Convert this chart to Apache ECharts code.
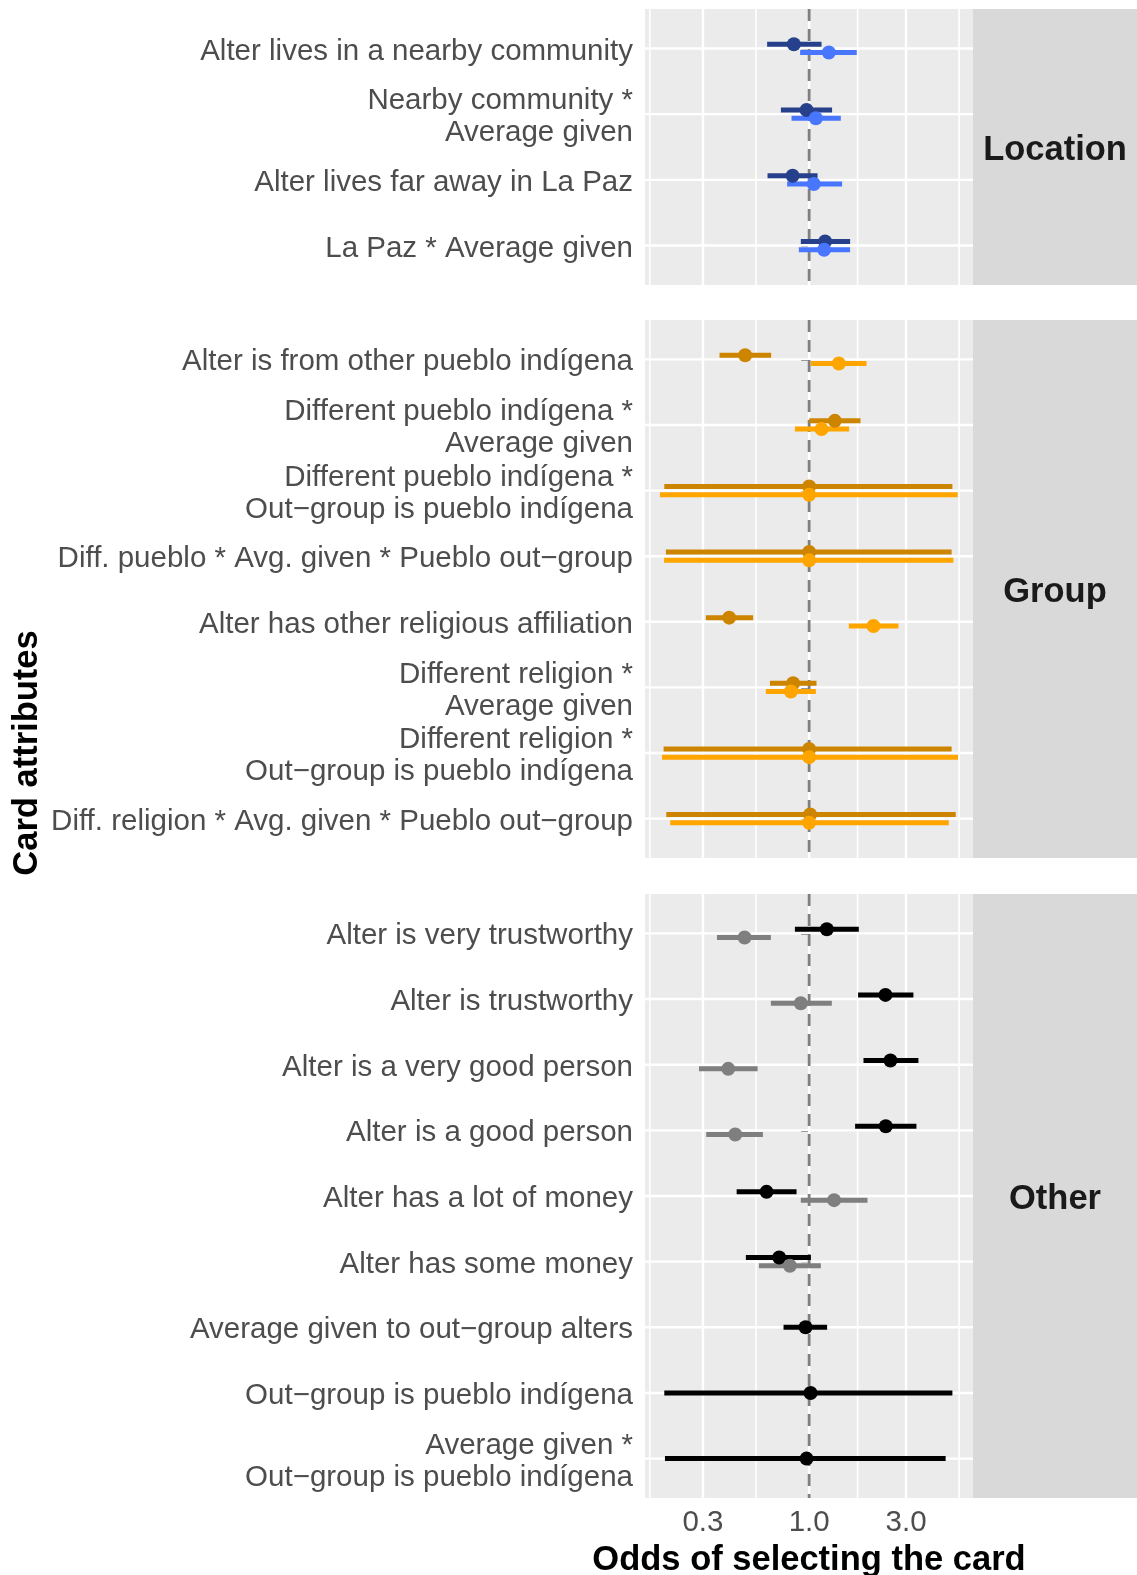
<!DOCTYPE html>
<html><head><meta charset="utf-8">
<script src="https://cdn.jsdelivr.net/npm/echarts@6/dist/echarts.min.js"></script>
<style>html,body{margin:0;padding:0;background:#fff}#c{width:1137px;height:1575px}</style>
</head><body><div id="c"></div>
<script>
const FONT = '"Liberation Sans", Arial, Helvetica, sans-serif';

// ---------- data ----------
const panelNames = ['Location', 'Group', 'Other'];

const locationLabels = ['Alter lives in a nearby community', 'Nearby community *\nAverage given', 'Alter lives far away in La Paz', 'La Paz * Average given'];
const locationDarkEst = [0.841, 0.971, 0.829, 1.198];
const locationDarkLo  = [0.621, 0.726, 0.624, 0.910];
const locationDarkHi  = [1.151, 1.297, 1.100, 1.591];
const locationLightEst = [1.250, 1.079, 1.054, 1.185];
const locationLightLo  = [0.903, 0.819, 0.779, 0.890];
const locationLightHi  = [1.716, 1.432, 1.453, 1.591];

const groupLabels = ['Alter is from other pueblo indígena', 'Different pueblo indígena *\nAverage given', 'Different pueblo indígena *\nOut\u2212group is pueblo indígena', 'Diff. pueblo * Avg. given * Pueblo out\u2212group', 'Alter has other religious affiliation', 'Different religion *\nAverage given', 'Different religion *\nOut\u2212group is pueblo indígena', 'Diff. religion * Avg. given * Pueblo out\u2212group'];
const groupDarkEst = [0.484, 1.338, 1.0, 1.0, 0.404, 0.834, 1.0, 1.011];
const groupDarkLo  = [0.362, 1.0, 0.1935, 0.197, 0.310, 0.641, 0.192, 0.198];
const groupDarkHi  = [0.650, 1.790, 5.075, 5.03, 0.530, 1.087, 5.03, 5.27];
const groupLightEst = [1.400, 1.151, 1.0, 1.0, 2.074, 0.813, 1.0, 1.0];
const groupLightLo  = [1.02, 0.851, 0.1843, 0.193, 1.568, 0.612, 0.1886, 0.207];
const groupLightHi  = [1.916, 1.573, 5.387, 5.13, 2.753, 1.079, 5.41, 4.87];

const otherLabels = ['Alter is very trustworthy', 'Alter is trustworthy', 'Alter is a very good person', 'Alter is a good person', 'Alter has a lot of money', 'Alter has some money', 'Average given to out\u2212group alters', 'Out\u2212group is pueblo indígena', 'Average given *\nOut\u2212group is pueblo indígena'];
const otherDarkEst = [1.222, 2.376, 2.514, 2.384, 0.617, 0.712, 0.960, 1.016, 0.971];
const otherDarkLo  = [0.851, 1.742, 1.852, 1.684, 0.4395, 0.488, 0.748, 0.1935, 0.195];
const otherDarkHi  = [1.756, 3.262, 3.452, 3.375, 0.867, 1.02, 1.226, 5.075, 4.70];
const otherLightEst = [0.481, 0.910, 0.3996, 0.4325, 1.327, 0.804, null, null, null];
const otherLightLo  = [0.3516, 0.648, 0.2868, 0.3113, 0.910, 0.566, null, null, null];
const otherLightHi  = [0.648, 1.293, 0.5575, 0.592, 1.938, 1.142, null, null, null];

const xTickValues = [0.3, 1.0, 3.0];
const xMinorValues = [0.1643, 0.5477, 1.732, 5.477];
const xRange = [0.1555, 6.41];
const refValue = 1.0;

// ---------- styling / layout ----------
const panels = [
  {labels: locationLabels, dark: [locationDarkEst, locationDarkLo, locationDarkHi], light: [locationLightEst, locationLightLo, locationLightHi], cDark: '#27408B', cLight: '#4876FF', top: 9, height: 276},
  {labels: groupLabels, dark: [groupDarkEst, groupDarkLo, groupDarkHi], light: [groupLightEst, groupLightLo, groupLightHi], cDark: '#CD8500', cLight: '#FFA500', top: 320, height: 538},
  {labels: otherLabels, dark: [otherDarkEst, otherDarkLo, otherDarkHi], light: [otherLightEst, otherLightLo, otherLightHi], cDark: '#000000', cLight: '#7F7F7F', top: 894, height: 604}
];
const GL = 645, GR = 1137 - 973;
const DODGE = 0.063;
const LABEL_NUDGE = 0.045;
const L = Math.log10;

const grids = [], xAxes = [], yAxes = [], series = [], graphics = [];

panels.forEach((p, i) => {
  const n = p.labels.length;
  grids.push({left: GL, right: GR, top: p.top, height: p.height, show: true, backgroundColor: '#EBEBEB', borderWidth: 0, containLabel: false});
  const isLast = i === panels.length - 1;
  xAxes.push({
    type: 'value', gridIndex: i, min: L(xRange[0]), max: L(xRange[1]),
    axisLine: {show: false}, splitLine: {show: false},
    axisTick: {show: isLast, customValues: xTickValues.map(L), length: 8, lineStyle: {color: '#333333', width: 2}},
    axisLabel: {show: isLast, customValues: xTickValues.map(L), margin: 10, color: '#4D4D4D', fontSize: 29.5, fontFamily: FONT,
      formatter: v => Math.pow(10, v).toFixed(1)}
  });
  const idx = [...Array(n).keys()];
  yAxes.push({
    type: 'value', gridIndex: i, inverse: true, min: -0.6, max: n - 0.4,
    axisLine: {show: false}, splitLine: {show: false},
    axisTick: {show: true, customValues: idx, length: 8, lineStyle: {color: '#333333', width: 2}},
    axisLabel: {show: true, customValues: idx.map(k => k + LABEL_NUDGE), margin: 12, color: '#4D4D4D', fontSize: 29.5, lineHeight: 32, fontFamily: FONT, align: 'right',
      formatter: v => p.labels[Math.round(v)] || ''}
  });

  // grid lines (vertical)
  const vData = xMinorValues.map(v => [L(v), 0, 1]).concat(xTickValues.map(v => [L(v), 0, 2]));
  series.push({
    type: 'custom', xAxisIndex: i, yAxisIndex: i, z: 1, silent: true, clip: false,
    data: vData, encode: {x: 0, y: 1},
    renderItem: (params, api) => {
      const cs = params.coordSys;
      const x = api.coord([api.value(0), 0])[0];
      const w = api.value(2) === 2 ? 2.4 : 1.6;
      return {type: 'line', shape: {x1: x, y1: cs.y, x2: x, y2: cs.y + cs.height}, style: {stroke: '#FFFFFF', lineWidth: w}};
    }
  });
  // grid lines (horizontal)
  series.push({
    type: 'custom', xAxisIndex: i, yAxisIndex: i, z: 1, silent: true, clip: false,
    data: idx.map(k => [0, k]), encode: {x: 0, y: 1},
    renderItem: (params, api) => {
      const cs = params.coordSys;
      const y = api.coord([0, api.value(1)])[1];
      return {type: 'line', shape: {x1: cs.x, y1: y, x2: cs.x + cs.width, y2: y}, style: {stroke: '#FFFFFF', lineWidth: 2.4}};
    }
  });
  // reference dashed line
  series.push({
    type: 'custom', xAxisIndex: i, yAxisIndex: i, z: 2, silent: true, clip: false,
    data: [[L(refValue), 0]], encode: {x: 0, y: 1},
    renderItem: (params, api) => {
      const cs = params.coordSys;
      const x = api.coord([api.value(0), 0])[0];
      return {type: 'line', shape: {x1: x, y1: cs.y, x2: x, y2: cs.y + cs.height}, style: {stroke: '#7F7F7F', lineWidth: 2.8, lineDash: [12, 8]}};
    }
  });

  const both = idx.map(k => p.dark[0][k] != null && p.light[0][k] != null);
  const mk = (arr, sign) => {
    const bars = [], pts = [];
    idx.forEach(k => {
      if (arr[0][k] == null) return;
      const y = k + (both[k] ? sign * DODGE : 0);
      bars.push([L(arr[1][k]), L(arr[2][k]), y]);
      pts.push([L(arr[0][k]), y]);
    });
    return {bars, pts};
  };
  const d = mk(p.dark, -1), l = mk(p.light, 1);
  [[d, p.cDark], [l, p.cLight]].forEach(([s, c]) => {
    series.push({
      type: 'custom', xAxisIndex: i, yAxisIndex: i, z: 3, silent: true,
      data: s.bars, encode: {x: [0, 1], y: 2},
      renderItem: (params, api) => {
        const y = api.value(2);
        const a = api.coord([api.value(0), y]);
        const b = api.coord([api.value(1), y]);
        return {type: 'line', shape: {x1: a[0], y1: a[1], x2: b[0], y2: b[1]}, style: {stroke: c, lineWidth: 5, lineCap: 'butt'}};
      }
    });
  });
  [[d, p.cDark], [l, p.cLight]].forEach(([s, c]) => {
    series.push({
      type: 'scatter', xAxisIndex: i, yAxisIndex: i, z: 4, silent: true,
      data: s.pts, symbol: 'circle', symbolSize: 14, itemStyle: {color: c, opacity: 1}
    });
  });

  // strip
  graphics.push({type: 'rect', shape: {x: 1137 - GR, y: p.top, width: GR, height: p.height}, style: {fill: '#D9D9D9'}, z: 0, silent: true});
  graphics.push({type: 'text', x: 1137 - GR / 2, y: p.top + p.height / 2 + 3, z: 5, silent: true,
    style: {text: panelNames[i], fill: '#1A1A1A', font: 'bold 34.5px ' + FONT, textAlign: 'center', textVerticalAlign: 'middle'}});
});

graphics.push({type: 'text', x: 809, y: 1560, silent: true,
  style: {text: 'Odds of selecting the card', fill: '#000000', font: 'bold 34.5px ' + FONT, textAlign: 'center', textVerticalAlign: 'middle'}});
graphics.push({type: 'text', x: 27, y: 753, rotation: Math.PI / 2, silent: true,
  style: {text: 'Card attributes', fill: '#000000', font: 'bold 34.5px ' + FONT, textAlign: 'center', textVerticalAlign: 'middle'}});

const chart = echarts.init(document.getElementById('c'), null, {renderer: 'canvas'});
chart.setOption({
  animation: false,
  backgroundColor: '#FFFFFF',
  grid: grids, xAxis: xAxes, yAxis: yAxes, series: series, graphic: graphics
});
</script></body></html>
